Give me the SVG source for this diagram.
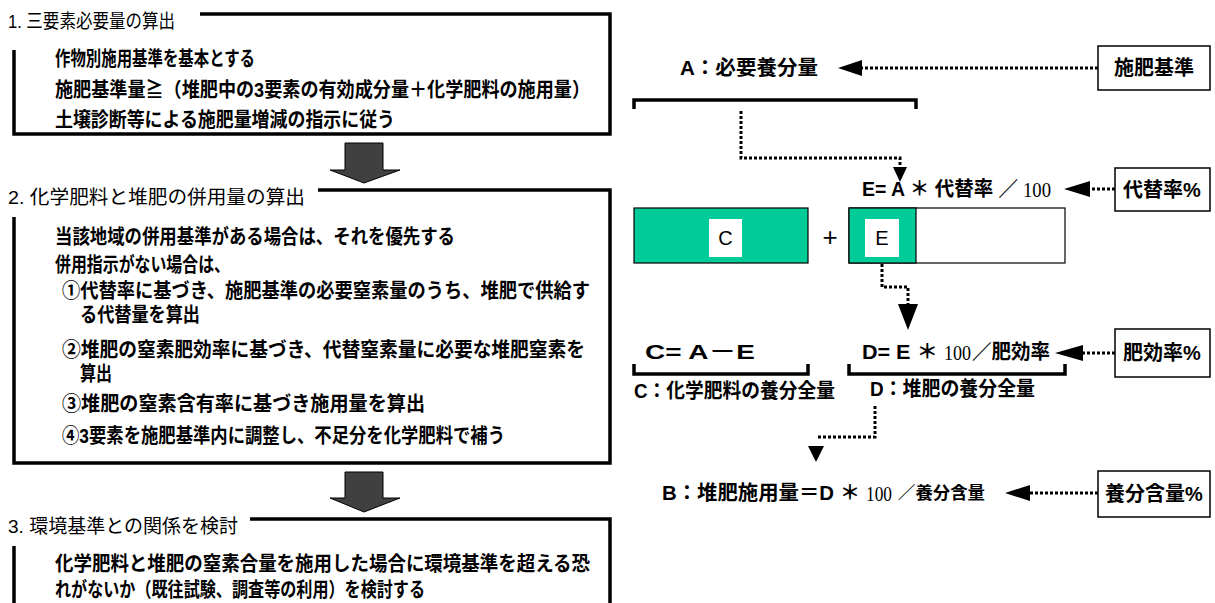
<svg xmlns="http://www.w3.org/2000/svg" width="1215" height="603" viewBox="0 0 1215 603">
<defs>
<style>
.t{font-family:"Liberation Sans","Noto Sans CJK JP",sans-serif;font-size:19px;fill:#000;dominant-baseline:central}
.b{font-family:"Liberation Sans","Noto Sans CJK JP",sans-serif;font-size:20px;font-weight:bold;fill:#000;dominant-baseline:central}
.s{font-family:"Liberation Serif",serif;font-size:20px;fill:#000;dominant-baseline:central}
.frame{fill:none;stroke:#000;stroke-width:3.5}
.br{fill:none;stroke:#000;stroke-width:3.5}
.dot{fill:none;stroke:#000;stroke-width:3;stroke-dasharray:3 2}
.box{fill:#fff;stroke:#000;stroke-width:1.5}
.big{fill:#404040;stroke:#000;stroke-width:1}
.grn{fill:#00CC99;stroke:#000;stroke-width:1.2}
</style>
</defs>
<g id="step1">
<path class="frame" d="M200,14 H610 V134 H14 V50"/>
<text class="t" x="8" y="21" textLength="167" lengthAdjust="spacingAndGlyphs">1. 三要素必要量の算出</text>
<text class="b" x="55" y="59" textLength="200" lengthAdjust="spacingAndGlyphs">作物別施用基準を基本とする</text>
<text class="b" x="55" y="90" textLength="535" lengthAdjust="spacingAndGlyphs">施肥基準量≧（堆肥中の3要素の有効成分量＋化学肥料の施用量）</text>
<text class="b" x="55" y="120" textLength="340" lengthAdjust="spacingAndGlyphs">土壌診断等による施肥量増減の指示に従う</text>
</g>
<g id="arrow1"><polygon class="big" points="345,143 383,143 383,170 400,170 364,183 330,170 345,170"/></g>
<g id="step2">
<path class="frame" d="M318,190 H610 V463 H14 V217"/>
<text class="t" x="8" y="197" textLength="297" lengthAdjust="spacingAndGlyphs">2. 化学肥料と堆肥の併用量の算出</text>
<text class="b" x="55" y="237" textLength="400" lengthAdjust="spacingAndGlyphs">当該地域の併用基準がある場合は、それを優先する</text>
<text class="b" x="55" y="265" textLength="175" lengthAdjust="spacingAndGlyphs">併用指示がない場合は、</text>
<text class="b" x="62" y="291" textLength="528" lengthAdjust="spacingAndGlyphs">①代替率に基づき、施肥基準の必要窒素量のうち、堆肥で供給す</text>
<text class="b" x="80" y="315" textLength="120" lengthAdjust="spacingAndGlyphs">る代替量を算出</text>
<text class="b" x="62" y="350" textLength="523" lengthAdjust="spacingAndGlyphs">②堆肥の窒素肥効率に基づき、代替窒素量に必要な堆肥窒素を</text>
<text class="b" x="80" y="374" textLength="32" lengthAdjust="spacingAndGlyphs">算出</text>
<text class="b" x="62" y="404" textLength="363" lengthAdjust="spacingAndGlyphs">③堆肥の窒素含有率に基づき施用量を算出</text>
<text class="b" x="62" y="436" textLength="443" lengthAdjust="spacingAndGlyphs">④3要素を施肥基準内に調整し、不足分を化学肥料で補う</text>
</g>
<g id="arrow2"><polygon class="big" points="345,472 383,472 383,498 400,498 364,512 330,498 345,498"/></g>
<g id="step3">
<path class="frame" d="M250,519 H610 V603 M14,603 V546"/>
<text class="t" x="8" y="526" textLength="230" lengthAdjust="spacingAndGlyphs">3. 環境基準との関係を検討</text>
<text class="b" x="55" y="564" textLength="535" lengthAdjust="spacingAndGlyphs">化学肥料と堆肥の窒素合量を施用した場合に環境基準を超える恐</text>
<text class="b" x="55" y="590" textLength="370" lengthAdjust="spacingAndGlyphs">れがないか（既往試験、調査等の利用）を検討する</text>
</g>
<g id="A">
<text class="b" x="680" y="68" textLength="138" lengthAdjust="spacingAndGlyphs">A：必要養分量</text>
<path class="br" d="M634,109 V100 H916 V109"/>
</g>
<g id="sehikijun"><rect class="box" x="1098" y="46" width="112" height="44"/><text class="b" x="1154" y="68" text-anchor="middle">施肥基準</text></g>
<g id="E-formula">
<text class="b" x="862" y="189" textLength="156" lengthAdjust="spacingAndGlyphs">E= A ＊ 代替率 ／</text>
<text class="s" x="1023" y="190" textLength="28" lengthAdjust="spacingAndGlyphs">100</text>
</g>
<g id="daitai"><rect class="box" x="1115" y="168" width="95" height="43"/><text class="b" x="1162" y="190" text-anchor="middle">代替率%</text></g>
<g id="C-bar"><rect class="grn" x="634" y="208" width="174" height="55"/><rect x="709" y="219" width="33" height="38" fill="#fff"/><text class="t" x="725.5" y="238" text-anchor="middle" style="font-size:20px">C</text></g>
<g id="plus"><text class="t" x="830" y="237" text-anchor="middle" style="font-size:26px">+</text></g>
<g id="E-bar"><rect class="box" x="849" y="208" width="216" height="55" style="stroke-width:1.2"/><rect class="grn" x="849" y="208" width="67" height="55"/><rect x="865" y="219" width="34" height="38" fill="#fff"/><text class="t" x="882" y="238" text-anchor="middle" style="font-size:20px">E</text></g>
<g id="C-formula"><text class="b" x="645" y="352" textLength="110" lengthAdjust="spacingAndGlyphs">C=  A－E</text><path class="br" d="M634,364 V374 H808 V364"/></g>
<g id="D-formula">
<text class="b" x="862" y="352" textLength="76" lengthAdjust="spacingAndGlyphs">D= E ＊</text>
<text class="s" x="944" y="353" textLength="27" lengthAdjust="spacingAndGlyphs">100</text>
<text class="b" x="972" y="352" textLength="78" lengthAdjust="spacingAndGlyphs">／肥効率</text>
<path class="br" d="M849,364 V374 H1065 V364"/>
</g>
<g id="hikouritsu"><rect class="box" x="1115" y="329" width="95" height="48"/><text class="b" x="1162" y="353" text-anchor="middle">肥効率%</text></g>
<g id="C-label"><text class="b" x="634" y="391" textLength="201" lengthAdjust="spacingAndGlyphs">C：化学肥料の養分全量</text></g>
<g id="D-label"><text class="b" x="870" y="389" textLength="165" lengthAdjust="spacingAndGlyphs">D：堆肥の養分全量</text></g>
<g id="B-formula">
<text class="b" x="662" y="493" textLength="198" lengthAdjust="spacingAndGlyphs">B：堆肥施用量＝D ＊</text>
<text class="s" x="866" y="494" textLength="26" lengthAdjust="spacingAndGlyphs">100</text>
<text class="b" x="898" y="493" textLength="87" lengthAdjust="spacingAndGlyphs" style="font-size:17px">／養分含量</text>
</g>
<g id="youbun"><rect class="box" x="1098" y="471" width="112" height="46"/><text class="b" x="1154" y="494" text-anchor="middle">養分含量%</text></g>
<g id="connectors">
<path class="dot" d="M1098,68 H862"/><polygon points="838,68 862,60 862,76"/>
<path class="dot" d="M741,111 V158 H900 V168"/><polygon points="900,182 893,167 907,167"/>
<path class="dot" d="M1115,189 H1088"/><polygon points="1064,189 1090,181 1090,197"/>
<path class="dot" d="M882,264 V287 H908 V304"/><polygon points="908,330 898,304 918,304"/>
<path class="dot" d="M1115,353 H1083"/><polygon points="1055,353 1083,345 1083,361"/>
<path class="dot" d="M875,406 V437 H817"/><polygon points="816,462 808,446 824,446"/>
<path class="dot" d="M1098,493 H1030"/><polygon points="1005,493 1030,485 1030,501"/>
</g>
</svg>
